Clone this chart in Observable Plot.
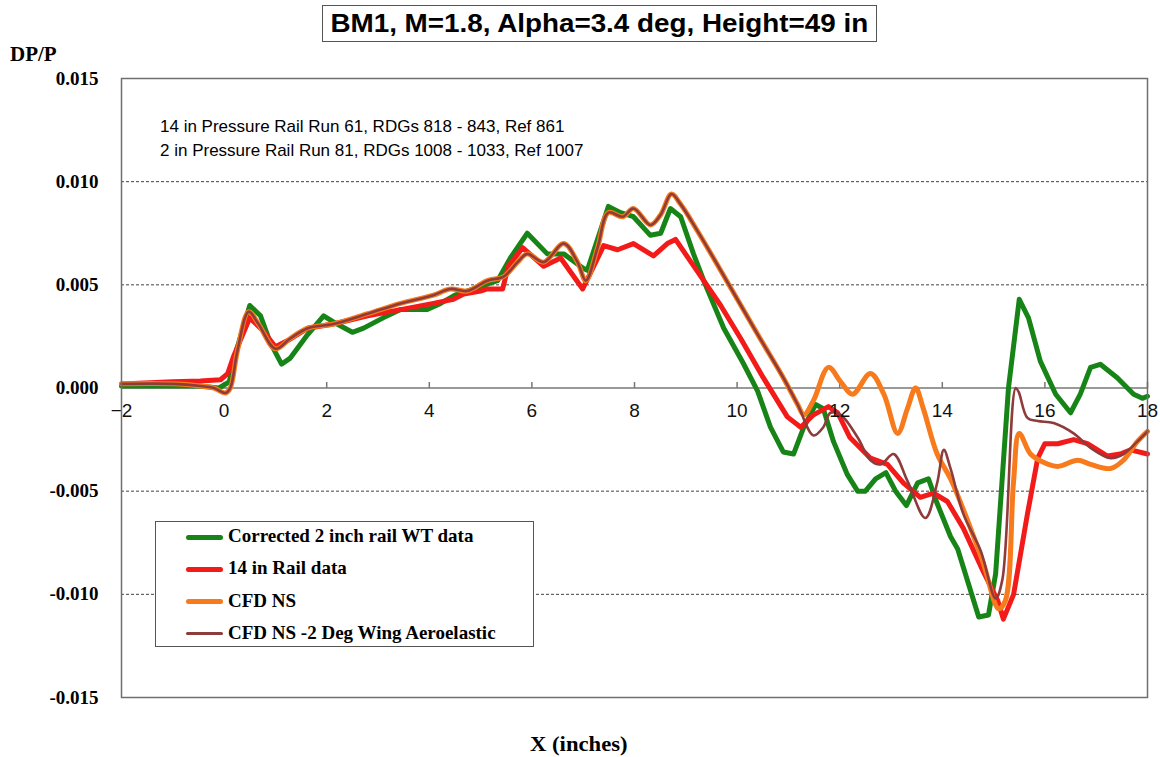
<!DOCTYPE html>
<html><head><meta charset="utf-8">
<script src="https://cdn.jsdelivr.net/npm/d3@7"></script>
<script src="https://cdn.jsdelivr.net/npm/@observablehq/plot@0.6"></script>
<style>
body{margin:0;background:#fff;}
#wrap{position:relative;width:1160px;height:757px;overflow:hidden;background:#fff;}
#chart{position:absolute;left:0;top:0;}
.ov{position:absolute;white-space:nowrap;color:#000;}
#title{left:322px;top:5px;width:555px;height:37px;box-sizing:border-box;border:1.5px solid #555;font:bold 26px "Liberation Sans",Arial,sans-serif;line-height:34px;text-align:center;}
#title span{display:inline-block;transform:scaleX(1.07);}
#ylab{left:10px;top:42px;font:bold 21px "Liberation Serif",serif;}
#xlab{left:530px;top:732px;font:bold 21px "Liberation Serif",serif;transform:scaleX(1.08);transform-origin:left center;}
.note{left:160px;font:17px "Liberation Sans",Arial,sans-serif;}
#legend{left:155px;top:521px;width:379px;height:126px;box-sizing:border-box;border:1.5px solid #555;background:#fff;}
.item{position:absolute;left:0;height:0;}
.sw{position:absolute;left:30px;width:37px;border-radius:3px;}
.lt{position:absolute;left:72px;font:bold 19px "Liberation Serif",serif;white-space:nowrap;line-height:20px;top:-11px;}
</style></head>
<body><div id="wrap"><div id="chart"></div></div>
<script>
// ---- data ----
const seriesNames = ["Corrected 2 inch rail WT data", "14 in Rail data", "CFD NS", "CFD NS -2 Deg Wing Aeroelastic"];
const seriesColors = ["#178417", "#f31a1a", "#f77a1c", "#8e3b3b"];
const titleText = "BM1, M=1.8, Alpha=3.4 deg, Height=49 in";
const noteLines = ["14 in Pressure Rail Run 61, RDGs 818 - 843, Ref 861", "2 in Pressure Rail Run 81, RDGs 1008 - 1033, Ref 1007"];
const xTicks = [-2, 0, 2, 4, 6, 8, 10, 12, 14, 16, 18];
const yTicks = [-0.015, -0.01, -0.005, 0, 0.005, 0.01, 0.015];

const greenX = [-2, -1, -0.5, -0.1, 0.1, 0.25, 0.5, 0.71, 0.9, 1.12, 1.29, 1.6, 1.94, 2.13, 2.5, 2.72, 3.1, 3.44, 3.96, 4.22, 4.5, 4.86, 5.33, 5.58, 5.91, 6.30, 6.62, 7.0, 7.08, 7.49, 7.73, 7.98, 8.31, 8.51, 8.70, 8.90, 9.15, 9.35, 9.74, 10.12, 10.4, 10.65, 10.9, 11.1, 11.3, 11.53, 11.68, 11.88, 12.15, 12.35, 12.5, 12.7, 12.9, 13.09, 13.3, 13.52, 13.73, 13.9, 14.16, 14.30, 14.71, 14.9, 15.04, 15.29, 15.5, 15.68, 15.91, 16.21, 16.5, 16.69, 16.89, 17.08, 17.41, 17.73, 17.9, 18];
const greenY = [0.0001, 0.0001, 0.0001, 0.0000, 0.0003, 0.0019, 0.0040, 0.0035, 0.0022, 0.00116, 0.00145, 0.0025, 0.0035, 0.0032, 0.0027, 0.0029, 0.0034, 0.0038, 0.0038, 0.0041, 0.0045, 0.0048, 0.0052, 0.0063, 0.0075, 0.0065, 0.0065, 0.0058, 0.0057, 0.0088, 0.0085, 0.0083, 0.0074, 0.0075, 0.0087, 0.0083, 0.0065, 0.0052, 0.0029, 0.0012, -0.00015, -0.0019, -0.0031, -0.0032, -0.0019, -0.0008, -0.0010, -0.0026, -0.0042, -0.0050, -0.0050, -0.0044, -0.0041, -0.0050, -0.0057, -0.0046, -0.0044, -0.0056, -0.0072, -0.0078, -0.0111, -0.0110, -0.0090, 0.0000, 0.0043, 0.0034, 0.0013, -0.0003, -0.0012, -0.0003, 0.0010, 0.00115, 0.0005, -0.0003, -0.0005, -0.0004];

const redX = [-2, -1, -0.46, -0.07, 0.07, 0.18, 0.5, 0.75, 1.0, 1.24, 1.63, 2.13, 2.8, 3.44, 4.08, 4.47, 4.67, 5.0, 5.13, 5.43, 5.54, 5.82, 6.23, 6.56, 6.99, 7.40, 7.67, 7.98, 8.37, 8.64, 8.80, 9.35, 9.68, 10.07, 10.51, 10.98, 11.24, 11.49, 11.78, 11.96, 12.2, 12.6, 12.93, 13.24, 13.57, 13.83, 14.1, 14.41, 14.8, 15.08, 15.19, 15.39, 15.66, 15.86, 16.0, 16.25, 16.56, 16.83, 17.22, 17.47, 17.67, 18];
const redY = [0.0002, 0.0003, 0.00034, 0.0004, 0.0007, 0.0015, 0.0034, 0.0028, 0.0020, 0.0023, 0.0029, 0.0031, 0.0035, 0.0038, 0.0041, 0.0043, 0.00455, 0.0047, 0.0048, 0.0048, 0.0059, 0.0068, 0.0059, 0.0063, 0.0048, 0.0069, 0.0067, 0.0070, 0.0064, 0.0070, 0.0072, 0.0052, 0.0040, 0.0024, 0.0005, -0.0014, -0.0019, -0.0013, -0.0009, -0.0012, -0.0024, -0.0034, -0.0037, -0.0046, -0.0053, -0.0051, -0.0055, -0.0068, -0.0089, -0.0103, -0.0112, -0.0100, -0.0061, -0.0034, -0.0027, -0.0027, -0.0025, -0.0027, -0.0033, -0.0032, -0.0030, -0.0032];

const cfdX = [-2, -1, -0.46, -0.2, 0.03, 0.12, 0.26, 0.48, 0.67, 1.0, 1.29, 1.63, 2.13, 2.8, 3.44, 4.08, 4.41, 4.74, 5.13, 5.45, 5.72, 5.91, 6.23, 6.62, 6.89, 7.05, 7.28, 7.49, 7.77, 7.98, 8.31, 8.51, 8.72, 8.90, 9.23, 9.68, 10.4, 10.9, 11.18, 11.3, 11.49, 11.78, 12.02, 12.25, 12.6, 12.86, 13.13, 13.32, 13.48, 13.63, 13.9, 14.16, 14.49, 14.8, 15.1, 15.23, 15.39, 15.5, 15.72, 15.97, 16.25, 16.64, 16.89, 17.28, 17.53, 17.8, 18];
const cfdY = [0.0002, 0.0002, 0.0001, 0.0000, -0.00024, 0.0000, 0.0018, 0.0037, 0.0031, 0.0019, 0.0024, 0.0029, 0.0031, 0.0036, 0.0041, 0.0045, 0.0048, 0.0047, 0.0052, 0.0054, 0.0061, 0.0065, 0.0061, 0.0070, 0.0061, 0.0052, 0.0068, 0.0085, 0.0083, 0.0087, 0.0079, 0.0084, 0.0094, 0.0089, 0.0076, 0.0057, 0.0026, 0.0005, -0.0008, -0.0013, -0.0006, 0.0010, 0.0003, -0.0003, 0.0007, -0.0003, -0.0022, -0.0010, 0.0000, -0.0010, -0.0032, -0.0044, -0.0064, -0.0085, -0.0107, -0.0103, -0.0045, -0.0022, -0.0032, -0.0036, -0.0038, -0.0035, -0.0037, -0.0039, -0.0035, -0.0026, -0.0021];

const aeroX = [-2, -1, -0.46, -0.2, 0.03, 0.12, 0.26, 0.48, 0.67, 1.0, 1.29, 1.63, 2.13, 2.8, 3.44, 4.08, 4.41, 4.74, 5.13, 5.45, 5.72, 5.91, 6.23, 6.62, 6.89, 7.05, 7.28, 7.49, 7.77, 7.98, 8.31, 8.51, 8.72, 8.90, 9.23, 9.68, 10.4, 10.9, 11.18, 11.49, 11.68, 11.82, 12.02, 12.35, 12.6, 12.8, 13.05, 13.32, 13.67, 13.9, 14.03, 14.16, 14.41, 14.75, 15.04, 15.17, 15.43, 15.49, 15.66, 15.86, 16.17, 16.56, 16.89, 17.28, 17.53, 17.8, 18];
const aeroY = [0.0002, 0.0002, 0.0001, 0.0000, -0.00024, 0.0000, 0.0018, 0.0037, 0.0031, 0.0019, 0.0024, 0.0029, 0.0031, 0.0036, 0.0041, 0.0045, 0.0048, 0.0047, 0.0052, 0.0054, 0.0061, 0.0065, 0.0061, 0.0070, 0.0061, 0.0052, 0.0068, 0.0085, 0.0083, 0.0087, 0.0079, 0.0084, 0.0094, 0.0089, 0.0076, 0.0057, 0.0026, 0.0005, -0.0008, -0.0023, -0.0019, -0.0012, -0.0013, -0.0024, -0.0035, -0.0037, -0.0032, -0.0045, -0.0063, -0.0046, -0.0030, -0.0039, -0.0061, -0.0079, -0.0102, -0.0093, 0.0000, -0.0002, -0.00145, -0.0016, -0.0017, -0.0022, -0.0029, -0.0034, -0.0032, -0.0026, -0.0021];

// ---- build ----
const rows = (xs, ys) => xs.map((x, i) => ({x, y: ys[i]}));
const gridY = yTicks.filter(v => v !== 0 && Math.abs(v) < 0.015);
const tickSym = {draw(ctx) { ctx.moveTo(0, 0); ctx.lineTo(0, -6); }};
const fmtX = d => d < 0 ? "\u2212" + (-d) : String(d);

const chart = Plot.plot({
  width: 1160, height: 757,
  marginLeft: 121, marginRight: 13, marginTop: 78, marginBottom: 60,
  x: {domain: [-2, 18], axis: null},
  y: {domain: [-0.015, 0.015], axis: null},
  marks: [
    Plot.ruleY(gridY, {stroke: "#444", strokeDasharray: "3,2", strokeWidth: 1}),
    Plot.ruleY([0], {stroke: "#777", strokeWidth: 1.5}),
    Plot.dot(xTicks, {x: d => d, y: () => 0, symbol: tickSym, stroke: "#777", fill: "none", strokeWidth: 1.5}),
    Plot.line(rows(greenX, greenY), {x: "x", y: "y", stroke: seriesColors[0], strokeWidth: 5, curve: "linear"}),
    Plot.line(rows(redX, redY), {x: "x", y: "y", stroke: seriesColors[1], strokeWidth: 5, curve: "linear"}),
    Plot.line(rows(cfdX, cfdY), {x: "x", y: "y", stroke: seriesColors[2], strokeWidth: 5, curve: "catmull-rom"}),
    Plot.line(rows(aeroX, aeroY), {x: "x", y: "y", stroke: seriesColors[3], strokeWidth: 2.6, curve: "catmull-rom"}),
    Plot.text(xTicks, {x: d => d, y: () => 0, dy: 23, text: fmtX, fontFamily: "Liberation Sans", fontSize: 19, fill: "#111"}),
    Plot.text(yTicks, {frameAnchor: "left", y: d => d, dx: -23, textAnchor: "end", text: d => d.toFixed(3), fontFamily: "Liberation Serif", fontWeight: "bold", fontSize: 19, fill: "#000"}),
    Plot.frame({stroke: "#6f6f6f", strokeWidth: 1.5})
  ]
});
document.getElementById("chart").appendChild(chart);

// ---- overlays ----
const wrap = document.getElementById("wrap");
function add(id, cls, text, style) {
  const d = document.createElement("div");
  if (id) d.id = id;
  d.className = "ov " + (cls || "");
  d.textContent = text;
  if (style) Object.assign(d.style, style);
  wrap.appendChild(d);
  return d;
}
const t = add("title", "", "");
const ts = document.createElement("span");
ts.textContent = titleText;
t.appendChild(ts);
add("ylab", "", "DP/P");
add("xlab", "", "X (inches)");
noteLines.forEach((s, i) => add(null, "note", s, {top: (117 + i * 24) + "px"}));
const leg = add("legend", "", "");
const widths = [5, 5, 5, 3];
seriesNames.forEach((n, i) => {
  const it = document.createElement("div");
  it.className = "item";
  it.style.top = (15 + i * 32.3) + "px";
  const sw = document.createElement("div");
  sw.className = "sw";
  sw.style.background = seriesColors[i];
  sw.style.height = widths[i] + "px";
  sw.style.top = (-widths[i] / 2) + "px";
  const lt = document.createElement("div");
  lt.className = "lt";
  lt.textContent = n;
  it.appendChild(sw); it.appendChild(lt);
  leg.appendChild(it);
});
</script>
</body></html>
